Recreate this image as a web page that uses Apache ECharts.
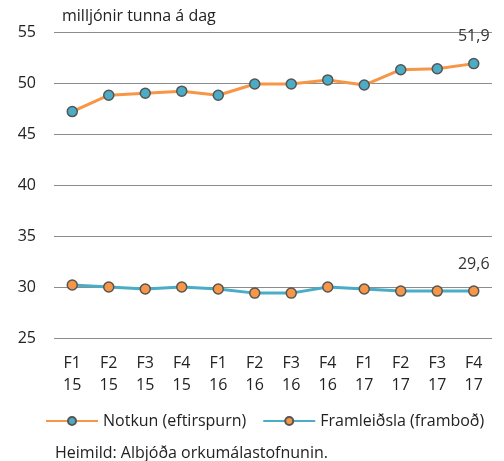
<!DOCTYPE html>
<html>
<head>
<meta charset="utf-8">
<script src="https://cdn.jsdelivr.net/npm/echarts@6/dist/echarts.min.js"></script>
<style>
  html, body { margin: 0; padding: 0; background: #fff; }
  #chart { width: 504px; height: 461px; }
</style>
</head>
<body>
<div id="chart"></div>
<script>
// gögn
var categories = ['F1\n15', 'F2\n15', 'F3\n15', 'F4\n15', 'F1\n16', 'F2\n16', 'F3\n16', 'F4\n16', 'F1\n17', 'F2\n17', 'F3\n17', 'F4\n17'];
var notkun = [47.2, 48.8, 49.0, 49.2, 48.8, 49.9, 49.9, 50.3, 49.8, 51.3, 51.4, 51.9];
var framleidsla = [30.2, 30.0, 29.8, 30.0, 29.8, 29.4, 29.4, 30.0, 29.8, 29.6, 29.6, 29.6];

var font = 'Open Sans';
var myChart = echarts.init(document.getElementById('chart'));

function lastLabel(arr) {
    return arr.map(function (v, i) {
        if (i !== arr.length - 1) return v;
        return {
            value: v,
            label: {
                show: true,
                position: 'top',
                distance: 13,
                color: '#333',
                fontFamily: font,
                fontSize: 16,
                formatter: function (p) { return String(p.value).replace('.', ','); }
            }
        };
    });
}

var option = {
    animation: false,
    textStyle: { fontFamily: font },
    grid: { left: 54, right: 12, top: 32, bottom: 123 },
    graphic: [
        { type: 'text', left: 62, top: 8, style: { text: 'milljónir tunna á dag', font: '16px "Open Sans"', fill: '#222' } },
        { type: 'text', left: 55, top: 445, style: { text: 'Heimild: Albjóða orkumálastofnunin.', font: '16px "Open Sans"', fill: '#222' } }
    ],
    legend: {
        top: 413,
        left: 45,
        padding: 0,
        itemWidth: 52,
        itemHeight: 10,
        itemGap: 16,
        textStyle: { fontFamily: font, fontSize: 16, color: '#222' },
        data: ['Notkun (eftirspurn)', 'Framleiðsla (framboð)']
    },
    xAxis: {
        type: 'category',
        data: categories,
        axisLine: { show: false },
        axisTick: { show: false },
        axisLabel: { color: '#222', fontFamily: font, fontSize: 16, lineHeight: 22, margin: 14 }
    },
    yAxis: {
        type: 'value',
        min: 25,
        max: 55,
        interval: 5,
        axisLine: { show: false },
        axisTick: { show: false },
        axisLabel: { color: '#222', fontFamily: font, fontSize: 16, margin: 18 },
        splitLine: { lineStyle: { color: '#8c8c8c', width: 1 } }
    },
    series: [
        {
            name: 'Notkun (eftirspurn)',
            type: 'line',
            data: lastLabel(notkun),
            symbol: 'circle',
            symbolSize: 10,
            lineStyle: { color: '#f79646', width: 3 },
            itemStyle: { color: '#4bacc6', borderColor: '#555', borderWidth: 1.5 }
        },
        {
            name: 'Framleiðsla (framboð)',
            type: 'line',
            data: lastLabel(framleidsla),
            symbol: 'circle',
            symbolSize: 10,
            lineStyle: { color: '#4bacc6', width: 3 },
            itemStyle: { color: '#f79646', borderColor: '#555', borderWidth: 1.5 }
        }
    ]
};
myChart.setOption(option);
</script>
</body>
</html>
